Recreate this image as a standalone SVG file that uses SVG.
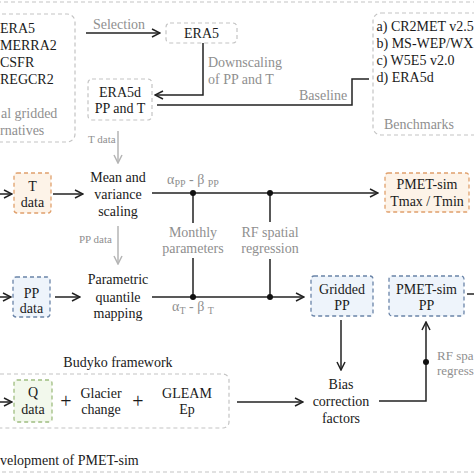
<svg xmlns="http://www.w3.org/2000/svg" width="474" height="474" viewBox="0 0 474 474">
<defs>
<style>
text{font-family:"Liberation Serif","Times New Roman",serif;font-size:14px;fill:#1a1a1a}
.c{text-anchor:middle}
.g{fill:#8f8f8f}
.s{font-size:11px}
.sub{font-size:10px}
.box{fill:none;stroke:#c4c4c4;stroke-width:1.2;stroke-dasharray:4 3}
.or{fill:#fdf3e8;stroke:#e0a06c;stroke-width:1.3;stroke-dasharray:4 3}
.bl{fill:#eef4fb;stroke:#6a84a8;stroke-width:1.3;stroke-dasharray:4 3}
.gr{fill:#f2f8ec;stroke:#9fbd80;stroke-width:1.3;stroke-dasharray:4 3}
.ln{fill:none;stroke:#222;stroke-width:1.5}
.lg{fill:none;stroke:#b5b5b5;stroke-width:1.5}
.dot{fill:#111}
</style>
<marker id="ah" viewBox="0 0 10 10" refX="9" refY="5" markerWidth="10" markerHeight="10" markerUnits="userSpaceOnUse" orient="auto">
<path d="M1,1 L9,5 L1,9" fill="none" stroke="#222" stroke-width="1.5"/>
</marker>
<marker id="ahg" viewBox="0 0 10 10" refX="9" refY="5" markerWidth="10" markerHeight="10" markerUnits="userSpaceOnUse" orient="auto">
<path d="M1,1 L9,5 L1,9" fill="none" stroke="#b5b5b5" stroke-width="1.5"/>
</marker>
</defs>
<rect width="474" height="474" fill="#ffffff"/>
<rect id="frame" x="-10" y="2" width="494" height="470" class="box"/>

<g id="alternatives">
<rect x="-20" y="14" width="95" height="128" rx="8" class="box"/>
<text x="0" y="33">ERA5</text>
<text x="0" y="50">MERRA2</text>
<text x="0" y="67">CSFR</text>
<text x="0" y="84">REGCR2</text>
<text x="1" y="118" class="g">al gridded</text>
<text x="0" y="135" class="g">rnatives</text>
</g>

<g id="benchmarks">
<rect x="373" y="13" width="120" height="122" rx="8" class="box"/>
<text x="376.5" y="31">a) CR2MET v2.5</text>
<text x="376.5" y="48">b) MS-WEP/WX</text>
<text x="376.5" y="65">c) W5E5 v2.0</text>
<text x="376.5" y="82">d) ERA5d</text>
<text x="384" y="129" class="g">Benchmarks</text>
</g>

<g id="era5">
<rect x="166" y="23" width="71" height="20" rx="4" class="box"/>
<text x="201.5" y="38" class="c">ERA5</text>
</g>

<g id="era5d">
<rect x="88" y="79" width="64" height="41" rx="4" class="box"/>
<text x="120" y="96.5" class="c">ERA5d</text>
<text x="120" y="113" class="c">PP and T</text>
</g>

<g id="tdata">
<rect x="14" y="173" width="37" height="40" rx="3" class="or"/>
<text x="32.5" y="190.5" class="c">T</text>
<text x="32.5" y="207" class="c">data</text>
</g>

<g id="meanvar">
<text x="118" y="181.5" class="c">Mean and</text>
<text x="118" y="198.5" class="c">variance</text>
<text x="118" y="215.5" class="c">scaling</text>
</g>

<g id="pmet-t">
<rect x="385" y="173" width="84" height="39" rx="3" class="or"/>
<text x="427" y="189" class="c">PMET-sim</text>
<text x="427" y="206" class="c">Tmax / Tmin</text>
</g>

<g id="ppdata">
<rect x="13" y="277" width="37" height="40" rx="3" class="bl"/>
<text x="31.5" y="298" class="c">PP</text>
<text x="31.5" y="313" class="c">data</text>
</g>

<g id="pqm">
<text x="118" y="284" class="c">Parametric</text>
<text x="118" y="301.5" class="c">quantile</text>
<text x="118" y="318" class="c">mapping</text>
</g>

<g id="gridded">
<rect x="311" y="276" width="62" height="40" rx="3" class="bl"/>
<text x="342" y="294" class="c">Gridded</text>
<text x="342" y="310" class="c">PP</text>
</g>

<g id="pmet-pp">
<rect x="389" y="276" width="75" height="40" rx="3" class="bl"/>
<text x="426.5" y="294" class="c">PMET-sim</text>
<text x="426.5" y="310" class="c">PP</text>
</g>

<g id="budyko">
<rect x="-20" y="374" width="249" height="54" rx="6" class="box"/>
<text x="118" y="367" class="c">Budyko framework</text>
<rect x="14" y="380" width="38" height="42" rx="3" class="gr"/>
<text x="33" y="397" class="c">Q</text>
<text x="33" y="414" class="c">data</text>
<text x="66" y="408" class="c" style="font-size:20px">+</text>
<text x="101" y="398" class="c">Glacier</text>
<text x="101" y="414" class="c">change</text>
<text x="138" y="407.5" class="c" style="font-size:20px">+</text>
<text x="187" y="398" class="c">GLEAM</text>
<text x="187" y="414" class="c">Ep</text>
</g>

<g id="bias">
<text x="341" y="389" class="c">Bias</text>
<text x="341" y="406" class="c">correction</text>
<text x="341" y="423" class="c">factors</text>
</g>

<g id="connectors">
<path d="M86,33 H160" class="ln" marker-end="url(#ah)"/>
<path d="M203,43 V95 H155" class="ln" marker-end="url(#ah)"/>
<path d="M157,105 H352 V79 H369" class="ln"/>
<path d="M118,131 V163" class="lg" marker-end="url(#ahg)"/>
<path d="M-5,194 H12" class="ln" marker-end="url(#ah)"/>
<path d="M53,194 H83" class="ln" marker-end="url(#ah)"/>
<path d="M152,193 H378" class="ln" marker-end="url(#ah)"/>
<path d="M193,193 V223 M193,258 V297" class="ln"/>
<path d="M270,193 V222 M270,259 V297" class="ln"/>
<path d="M118,226 V264" class="lg" marker-end="url(#ahg)"/>
<path d="M-5,297 H11" class="ln" marker-end="url(#ah)"/>
<path d="M55,297 H80" class="ln" marker-end="url(#ah)"/>
<path d="M152,297 H304" class="ln" marker-end="url(#ah)"/>
<path d="M-5,402 H12" class="ln" marker-end="url(#ah)"/>
<path d="M237,402 H303" class="ln" marker-end="url(#ah)"/>
<path d="M341,320 V370" class="ln" marker-end="url(#ah)"/>
<path d="M379,401 H426 V322" class="ln" marker-end="url(#ah)"/>
<path d="M467,294 H474" class="ln"/>
<circle cx="193" cy="193" r="3" class="dot"/>
<circle cx="270" cy="193" r="3" class="dot"/>
<circle cx="193" cy="297" r="3" class="dot"/>
<circle cx="270" cy="297" r="3" class="dot"/>
<circle cx="426" cy="362" r="3" class="dot"/>
<text x="119" y="29" class="c g">Selection</text>
<text x="208" y="66.5" class="g">Downscaling</text>
<text x="208" y="83.5" class="g">of PP and T</text>
<text x="299" y="100" class="g">Baseline</text>
<text x="88" y="143" class="g s">T data</text>
<text x="79" y="243" class="g s">PP data</text>
<text x="193" y="184" class="c g">α<tspan class="sub" dy="3">PP</tspan><tspan dy="-3"> - β </tspan><tspan class="sub" dy="3">PP</tspan></text>
<text x="193" y="311" class="c g">α<tspan class="sub" dy="3">T</tspan><tspan dy="-3"> - β </tspan><tspan class="sub" dy="3">T</tspan></text>
<text x="193" y="237" class="c g">Monthly</text>
<text x="193" y="253" class="c g">parameters</text>
<text x="270" y="237" class="c g">RF spatial</text>
<text x="270" y="253" class="c g">regression</text>
<text x="437" y="360" class="g" style="font-size:13px">RF spa</text>
<text x="437" y="375" class="g" style="font-size:13px">regress</text>
</g>

<text id="caption" x="0" y="465">velopment of PMET-sim</text>
</svg>
